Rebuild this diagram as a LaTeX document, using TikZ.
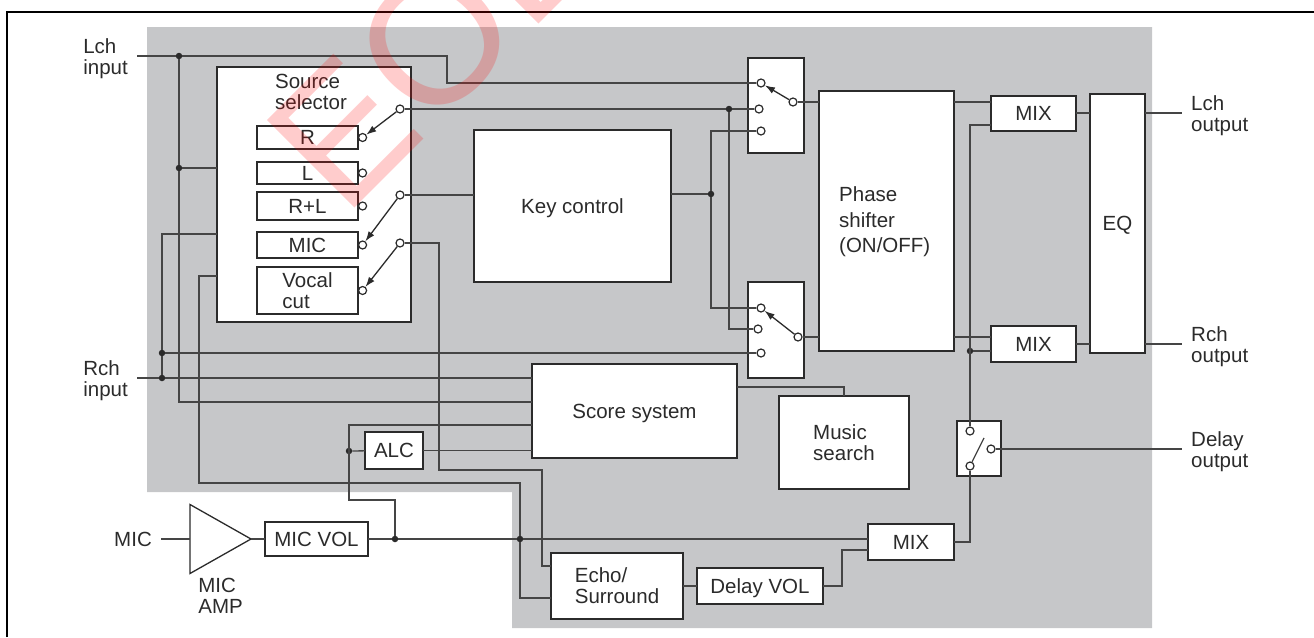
\documentclass[tikz,border=0pt]{standalone}
\usepackage{fontspec}
\setmainfont{Liberation Sans}
\usetikzlibrary{arrows.meta,positioning,calc,shapes.geometric}
\definecolor{panel}{HTML}{C6C7C9}
\definecolor{ink}{HTML}{2B2B2B}
\definecolor{wirecol}{HTML}{454545}

\begin{document}
\begin{tikzpicture}[x=1pt, y=-1pt, font=\fontsize{20.5}{21}\selectfont, text=ink,
  box/.style={draw=ink, line width=1.5pt, fill=white, align=center, inner sep=0pt, outer sep=0pt},
  sized/.style 2 args={minimum width=#1pt, minimum height=#2pt},
  txt/.style={align=left, inner sep=0pt},
  contact/.style={circle, draw=ink, line width=1.2pt, fill=white, inner sep=0pt, minimum size=8pt},
  junction/.style={circle, fill=ink, inner sep=0pt, minimum size=6.5pt},
  wire/.style={draw=wirecol, line width=1.3pt},
  lever/.style={-{Latex[length=10pt,width=7pt]}, draw=ink, line width=1.3pt}]
\useasboundingbox (0,0) rectangle (1314,637);
\fill[panel] (147,27) -- (1152,27) -- (1152,628) -- (512,628) -- (512,492) -- (147,492) -- cycle;
\draw[black, line width=2pt] (7,637) -- (7,12) -- (1314,12);

\node[box, sized={194}{255}, anchor=north west] (selector) at (217,67) {};
\node[txt, below=7pt of selector.north, xshift=-3pt] (selectorlabel) {Source\\selector};
\node[box, sized={101}{23}, below right=59pt and 40pt of selector.north west] (srcR) {R};
\node[box, sized={101}{22}, below=13pt of srcR] (srcL) {L};
\node[box, sized={101}{28}, below=8pt of srcL] (srcRL) {R+L};
\node[box, sized={101}{26}, below=12pt of srcRL] (srcMic) {MIC};
\node[box, sized={101}{47}, below=9pt of srcMic, align=left] (srcVocal) {Vocal\\cut};
\node[box, sized={197}{152}, below right=63pt and 63pt of selector.north east, text depth=0pt] (keyctl) {Key control};
\node[box, sized={56}{95}, below right=-9pt and 337pt of selector.north east] (switchL) {};
\node[box, sized={56}{96}, below=129pt of switchL] (switchR) {};
\node[box, sized={135}{260}, below right=33pt and 15pt of switchL.north east] (phase) {};
\node[txt, right=20pt of phase.west, yshift=-1pt] (phaselabel) {Phase\\[4.5pt]shifter\\[4.5pt](ON/OFF)};
\node[box, sized={85}{35}, below right=5pt and 37pt of phase.north east] (mixL) {MIX};
\node[box, sized={85}{36}, below=195pt of mixL] (mixR) {MIX};
\node[box, sized={55}{259}, below right=-2pt and 14pt of mixL.north east, text depth=0pt] (eq) {EQ};
\node[box, sized={205}{94}, below right=42pt and 121pt of selector.south east, text depth=0pt] (score) {Score system};
\node[box, sized={130}{93}, below right=32pt and 42pt of score.north east, align=left] (music) {Music\\search};
\node[box, sized={58}{37}, below left=-26pt and 109pt of score.south west] (alc) {ALC};
\node[box, sized={132}{66}, below right=95pt and 19pt of score.south west, align=left] (echo) {Echo/\\Surround};
\node[box, sized={126}{36}, right=14pt of echo, text depth=0pt] (delayvol) {Delay VOL};
\node[box, sized={86}{36}, below right=-44pt and 45pt of delayvol.north east] (mixD) {MIX};
\node[box, sized={44}{55}, below right=70pt and 3pt of phase.south east] (switchD) {};
\node[box, sized={103}{34}, anchor=north west] (micvol) at (265,522) {MIC VOL};
\node[isosceles triangle, isosceles triangle stretches, draw=ink, line width=1.3pt, fill=white, inner sep=0pt, outer sep=0pt, minimum height=61pt, minimum width=69pt, left=14pt of micvol] (amp) {};
\node[txt, below left=22pt and 22pt of micvol.south west] (amplabel) {MIC\\AMP};

\coordinate (lchin) at (137,56);
\coordinate (rchin) at (137,378);
\coordinate (micin) at (161,539);
\coordinate (lchout) at (1182,113);
\coordinate (rchout) at (1182,344);
\coordinate (delayout) at (1182,449);
\node[txt, left=9pt of lchin, yshift=-2.5pt] (lchinlabel) {Lch\\input};
\node[txt, left=9pt of rchin, yshift=-3pt] (rchinlabel) {Rch\\input};
\node[txt, left=9pt of micin] (micinlabel) {MIC};
\node[txt, right=9pt of lchout, yshift=-3pt] (lchoutlabel) {Lch\\output};
\node[txt, right=9pt of rchout, yshift=-3pt] (rchoutlabel) {Rch\\output};
\node[txt, right=9pt of delayout, yshift=-3pt] (delayoutlabel) {Delay\\output};

\node[contact, right=0pt of srcR] (contactR) {};
\node[contact, right=0pt of srcL] (contactL) {};
\node[contact, right=0pt of srcRL] (contactRL) {};
\node[contact, right=0pt of srcMic] (contactMic) {};
\node[contact, right=0pt of srcVocal] (contactVocal) {};
\node[contact] (poleR) at (400,109) {};
\node[contact] (poleKey) at (400,195) {};
\node[contact] (poleVocal) at (400,243) {};
\node[contact] (swLa) at (761,83) {};
\node[contact] (swLb) at (759,109) {};
\node[contact] (swLc) at (761,131) {};
\node[contact] (swLp) at (793,102) {};
\node[contact] (swRa) at (761,308) {};
\node[contact] (swRb) at (758,329) {};
\node[contact] (swRc) at (761,353) {};
\node[contact] (swRp) at (798,337) {};
\node[contact] (swDa) at (970,431) {};
\node[contact] (swDb) at (970,466) {};
\node[contact] (swDc) at (991,449) {};
\coordinate (swDt) at (984,438);

\node[junction] (dotLa) at (179,56) {};
\node[junction] (dotLb) at (179,168) {};
\node[junction] (dotRa) at (162,353) {};
\node[junction] (dotRb) at (162,378) {};
\node[junction] (dotSel) at (729,109) {};
\node[junction] (dotKey) at (711,194) {};
\node[junction] (dotAlc) at (349,451) {};
\node[junction] (dotMic) at (395,539) {};
\node[junction] (dotEcho) at (520,539) {};
\node[junction] (dotMix) at (970,351) {};

\coordinate (selMic) at ($(selector.north west)+(0,167)$);
\coordinate (selVocal) at ($(selector.north west)+(0,209)$);
\coordinate (scoreA) at ($(score.north west)+(0,38)$);
\coordinate (scoreB) at ($(score.north west)+(0,61)$);
\coordinate (scoreOut) at ($(score.north east)+(0,23)$);
\coordinate (echoA) at ($(echo.north west)+(0,13)$);
\coordinate (echoB) at ($(echo.north west)+(0,45)$);
\coordinate (mixLin) at ($(mixL.north west)+(0,29)$);
\coordinate (mixDin) at ($(mixD.north west)+(0,26)$);
\coordinate (bendVocal) at (199,483);
\coordinate (bendEcho) at (439,470);

\draw[wire] (lchin) -- (dotLa) -- ++(268,0) |- (swLa);
\draw[wire] (dotLa) -- (dotLb); \draw[wire] (dotLb) -- (dotLb -| selector.west); \draw[wire] (dotLb) |- (scoreA);
\draw[wire] (rchin) -- (dotRb) -- (rchin -| score.west); \draw[wire] (dotRb) -- (dotRa) |- (selMic); \draw[wire] (dotRa) -- (swRc);
\draw[wire] (selVocal) -| (bendVocal) -| (dotEcho); \draw[wire] (dotEcho) |- (echoB);
\draw[wire] (poleVocal) -| (bendEcho) -- ++(103,0) |- (echoA);
\draw[wire] (poleKey) -- (poleKey -| keyctl.west); \draw[wire] (poleR) -- (dotSel) -- (swLb); \draw[wire] (dotSel) |- (swRb);
\draw[wire] (dotKey -| keyctl.east) -- (dotKey); \draw[wire] (dotKey) |- (swLc); \draw[wire] (dotKey) |- (swRa);
\draw[wire] (swLp) -- (swLp -| phase.west); \draw[wire] (swRp) -- (swRp -| phase.west);
\draw[wire] (swLp -| phase.east) -- (swLp -| mixL.west); \draw[wire] (swRp -| phase.east) -- (swRp -| mixR.west);
\draw[wire] (lchout -| mixL.east) -- (lchout -| eq.west); \draw[wire] (lchout -| eq.east) -- (lchout);
\draw[wire] (rchout -| mixR.east) -- (rchout -| eq.west); \draw[wire] (rchout -| eq.east) -- (rchout);
\draw[wire] (swDa) |- (mixLin); \draw[wire] (dotMix) -- (dotMix -| mixR.west);
\draw[wire] (swDb) |- (mixD.east); \draw[wire] (swDc) -- (delayout);
\draw[wire] (micin) -- (amp.west); \draw[wire] (amp.east) -- (micvol); \draw[wire] (micvol) -- (dotMic) -- (dotEcho) -- (dotEcho -| mixD.west);
\draw[wire] (dotMic) -- ++(0,-39) -- ++(-46,0) |- (scoreB); \draw[wire] (dotAlc) -- (alc); \draw[wire] (alc) -- (alc -| score.west);
\draw[wire] (echo) -- (delayvol); \draw[wire] (delayvol) -- ++(82,0) |- (mixDin); \draw[wire] (scoreOut) -| (music.north);

\draw[lever] (poleR) -- (contactR); \draw[lever] (poleKey) -- (contactMic); \draw[lever] (poleVocal) -- (contactVocal);
\draw[lever] (swLp) -- (swLa); \draw[lever] (swRp) -- (swRa); \draw[wire] (swDb) -- (swDt);

\node[rotate=45, text=red, text opacity=0.2, font=\fontsize{180}{180}\selectfont, inner sep=0pt] (stamp) at (428,47) {EOL};
\end{tikzpicture}
\end{document}
